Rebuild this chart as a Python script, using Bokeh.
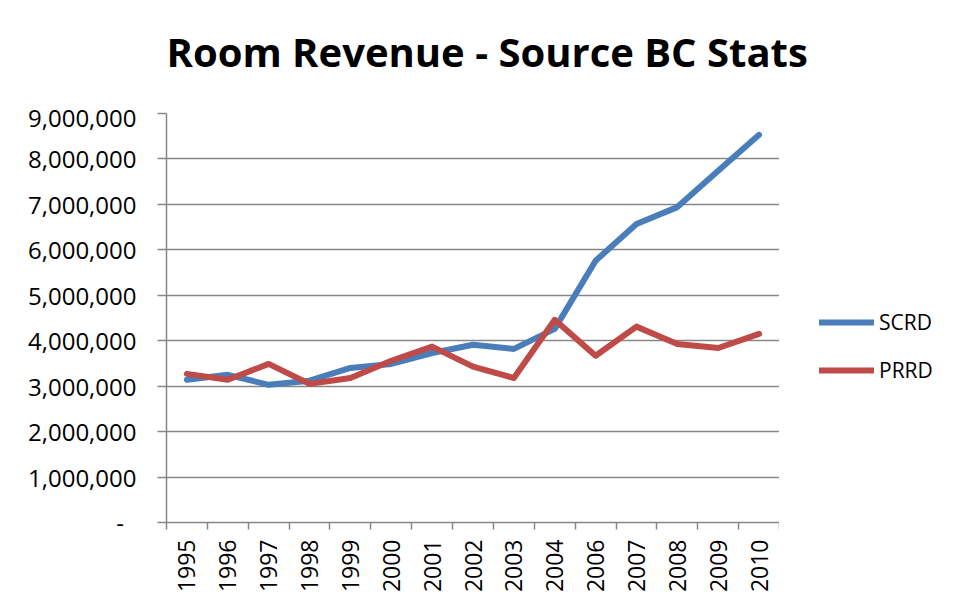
import math
from bokeh.plotting import figure
from bokeh.layouts import row, column
from bokeh.models import (Range1d, FixedTicker, NumeralTickFormatter, Legend, LegendItem, Label)
from bokeh.embed import file_html
from bokeh.resources import INLINE

years = ["1995", "1996", "1997", "1998", "1999", "2000", "2001", "2002",
         "2003", "2004", "2006", "2007", "2008", "2009", "2010"]
scrd = [3140000, 3250000, 3030000, 3120000, 3400000, 3490000, 3730000, 3910000,
        3820000, 4260000, 5760000, 6570000, 6940000, 7740000, 8530000]
prrd = [3270000, 3140000, 3490000, 3050000, 3180000, 3560000, 3870000, 3430000,
        3180000, 4460000, 3670000, 4310000, 3930000, 3840000, 4150000]
y_ticks = [0, 1000000, 2000000, 3000000, 4000000, 5000000, 6000000, 7000000, 8000000, 9000000]
series_names = ["SCRD", "PRRD"]
title_text = "Room Revenue - Source BC Stats"

FONT = "Open Sans"
GRID = "#868686"
BLUE = "#4A7EBB"
RED = "#BE4B48"
LW = 6

xs = list(range(len(years)))

# ---- title strip ----
t = figure(width=948, height=100, output_backend="svg", toolbar_location=None,
           x_range=Range1d(0, 1), y_range=Range1d(0, 1),
           min_border_left=0, min_border_right=0, min_border_top=0, min_border_bottom=0)
t.axis.visible = False
t.grid.visible = False
t.outline_line_color = None
t.border_fill_color = "white"
t.add_layout(Label(x=166, y=49, x_units="screen", y_units="screen", text=title_text,
                   text_font=FONT, text_font_style="bold", text_font_size="40px",
                   text_color="black", text_baseline="alphabetic", text_align="left"))

# ---- main plot ----
p = figure(width=779, height=495, output_backend="svg", toolbar_location=None,
           x_range=Range1d(-0.5, len(years) - 0.5), y_range=Range1d(0, 9000000),
           min_border_left=166, min_border_right=0, min_border_top=13,
           min_border_bottom=73)
p.outline_line_color = None
p.background_fill_color = "white"
p.border_fill_color = "white"

r1 = p.line(xs, scrd, line_color=BLUE, line_width=LW, line_join="round", line_cap="round")
r2 = p.line(xs, prrd, line_color=RED, line_width=LW, line_join="round", line_cap="round")

p.xaxis.ticker = FixedTicker(ticks=xs, minor_ticks=[i - 0.5 for i in range(len(years) + 1)])
p.xaxis.major_label_overrides = {i: y for i, y in enumerate(years)}
p.xaxis.major_label_orientation = math.pi / 2
p.xaxis.major_tick_out = 0
p.xaxis.major_tick_in = 0
p.xaxis.minor_tick_out = 7
p.xaxis.minor_tick_in = 0
p.xaxis.minor_tick_line_color = GRID
p.xaxis.minor_tick_line_width = 1.5
p.xaxis.axis_line_color = GRID
p.xaxis.axis_line_width = 1.5
p.xaxis.major_label_text_font = FONT
p.xaxis.major_label_text_font_size = "23px"
p.xaxis.major_label_text_color = "black"
p.xaxis.major_label_standoff = 10
p.xgrid.grid_line_color = None

p.yaxis.ticker = FixedTicker(ticks=y_ticks, minor_ticks=[])
p.yaxis.formatter = NumeralTickFormatter(format="0,0")
p.yaxis.major_label_overrides = {0: "-\u00a0\u00a0"}
p.yaxis.major_tick_out = 9
p.yaxis.major_tick_in = 0
p.yaxis.major_tick_line_color = GRID
p.yaxis.major_tick_line_width = 1.5
p.yaxis.axis_line_color = GRID
p.yaxis.axis_line_width = 1.5
p.yaxis.major_label_text_font = FONT
p.yaxis.major_label_text_font_size = "24px"
p.yaxis.major_label_text_color = "black"
p.yaxis.major_label_standoff = 21
p.ygrid.ticker = FixedTicker(ticks=y_ticks[1:])
p.ygrid.grid_line_color = GRID
p.ygrid.grid_line_width = 1.5

# ---- legend strip (series drawn out of view, used only as legend keys) ----
lg = figure(width=169, height=495, output_backend="svg", toolbar_location=None,
            x_range=Range1d(100, 101), y_range=Range1d(0, 1),
            min_border_left=0, min_border_right=0, min_border_top=13, min_border_bottom=73)
lg.axis.visible = False
lg.grid.visible = False
lg.outline_line_color = None
lg.border_fill_color = "white"
k1 = lg.line(xs, scrd, line_color=BLUE, line_width=LW, line_cap="round")
k2 = lg.line(xs, prrd, line_color=RED, line_width=LW, line_cap="round")
legend = Legend(items=[LegendItem(label=series_names[0], renderers=[k1]),
                       LegendItem(label=series_names[1], renderers=[k2])],
                location=(40, 138), orientation="vertical",
                glyph_width=55, glyph_height=28, label_height=28, spacing=20,
                padding=0, margin=0, label_standoff=5,
                border_line_color=None, background_fill_alpha=0,
                label_text_font=FONT, label_text_font_size="21px",
                label_text_color="black")
lg.add_layout(legend, "center")

layout = column(t, row(p, lg, spacing=0), spacing=0)
open("out.html", "w").write(file_html(layout, INLINE))
